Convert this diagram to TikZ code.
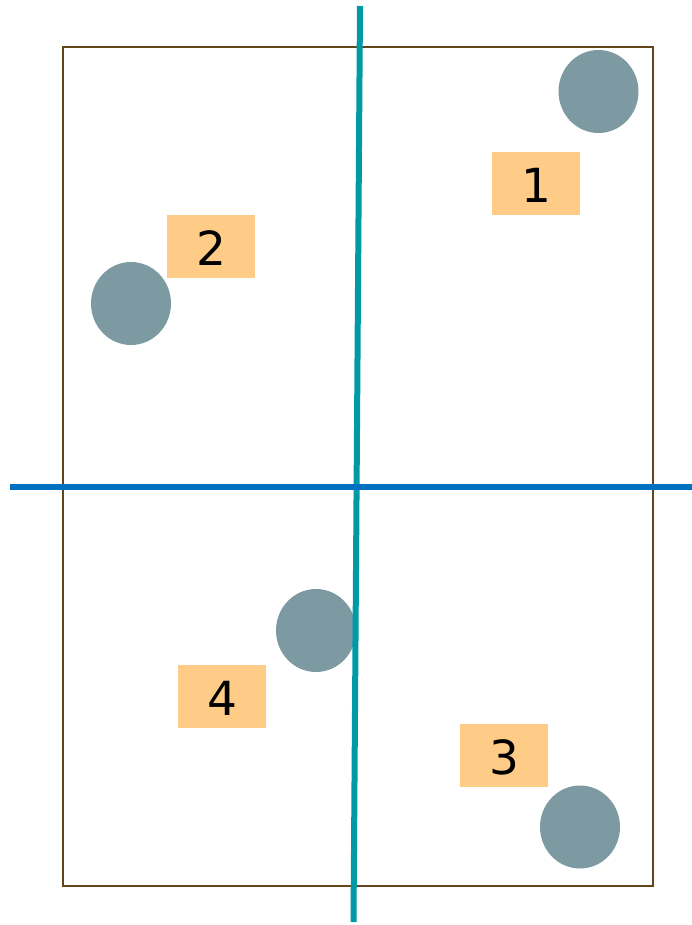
\documentclass[tikz,border=0pt]{standalone}
\usepackage{fontspec}
\setmainfont{DejaVu Sans}
\usetikzlibrary{shapes.geometric}

\definecolor{framebrown}{HTML}{65451A}
\definecolor{ballgrey}{HTML}{7D9AA2}
\definecolor{tagorange}{HTML}{FFCC88}
\definecolor{axisteal}{HTML}{0099A6}
\definecolor{axisblue}{HTML}{0070C0}

\tikzset{
  frame/.style={draw=framebrown,line width=2.3pt},
  ball/.style={ellipse,fill=ballgrey,minimum width=80pt,minimum height=83pt,inner sep=0pt},
  tag/.style={fill=tagorange,minimum width=88pt,minimum height=63pt,inner sep=0pt,
    text height=38pt,text depth=0pt,font=\fontsize{47}{50}\selectfont},
  axis/.style={line width=6pt}
}

\begin{document}
\begin{tikzpicture}[x=1pt,y=-1pt]
\useasboundingbox (0,0) rectangle (692,925);

\draw[frame] (63,47) rectangle (653,886);

% points
\node[ball] (ball1) at (598.5,91.5){};
\node[ball] (ball2) at (131,303.5){};
\node[ball] (ball3) at (580,827){};
\node[ball] (ball4) at (316,630.5){};

% quadrant numbers
\node[tag] (quad1) at (536,183.5){1};
\node[tag] (quad2) at (211,246.5){2};
\node[tag] (quad3) at (504,755){3};
\node[tag] (quad4) at (222,696.5){4};

% axes
\coordinate (top) at (360,6);
\coordinate (bottom) at (353.5,922);
\coordinate (left) at (10,487);
\coordinate (right) at (692,487);
\draw[axis,axisteal] (top)--(bottom);
\draw[axis,axisblue] (left)--(right);

\end{tikzpicture}
\end{document}
